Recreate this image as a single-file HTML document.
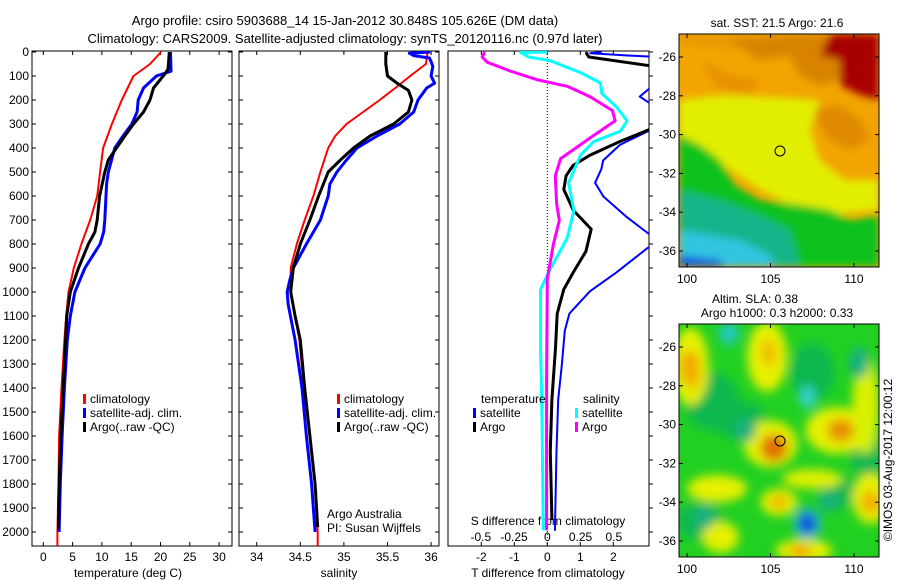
<!DOCTYPE html>
<html><head><meta charset="utf-8"><style>
html,body{margin:0;padding:0;background:#fff;}
svg{display:block;font-family:"Liberation Sans",sans-serif;}
</style></head><body>
<svg id="chart" width="900" height="580" viewBox="0 0 900 580" xmlns="http://www.w3.org/2000/svg">
<defs>
<filter id="blur1" x="-20%" y="-20%" width="140%" height="140%"><feGaussianBlur stdDeviation="4"/></filter>
<filter id="blur2" x="-50%" y="-50%" width="200%" height="200%"><feGaussianBlur stdDeviation="5"/></filter>
<clipPath id="cp1"><rect x="32" y="51" width="200" height="495"/></clipPath>
<clipPath id="cp2"><rect x="239" y="51" width="200" height="495"/></clipPath>
<clipPath id="cp3"><rect x="448" y="51" width="201" height="495"/></clipPath>
<clipPath id="cm1"><rect x="679" y="34" width="200" height="233"/></clipPath>
<clipPath id="cm2"><rect x="679" y="324" width="200" height="233"/></clipPath>
</defs>
<text x="345" y="25" font-size="13" text-anchor="middle">Argo profile: csiro 5903688_14 15-Jan-2012 30.848S 105.626E (DM data)</text>
<text x="345" y="43" font-size="13" text-anchor="middle">Climatology: CARS2009. Satellite-adjusted climatology: synTS_20120116.nc (0.97d later)</text>

<g id="maps">
<g clip-path="url(#cm1)">
<rect x="679" y="34" width="200" height="233" fill="#f2a400"/>
<g filter="url(#blur1)">
<polygon points="679,34 879,34 879,60 800,55 740,50 679,45" fill="#e89a00"/>
<polygon points="730,40 760,60 790,55 800,75 820,85 840,80 860,70 879,70 879,34 820,34" fill="#d88200"/>
<polygon points="810,110 840,105 860,120 870,140 850,150 830,140" fill="#e08a00"/>
<polygon points="700,60 730,75 760,80 750,95 720,90" fill="#e89200"/>
<polygon points="830,34 879,34 879,100 860,95 840,85 840,60 820,55" fill="#a80000"/>
<polygon points="679,100 720,95 790,98 820,100 810,130 820,160 845,180 879,180 879,210 830,215 790,205 760,190 730,170 700,150 679,140" fill="#e2ee00"/>
<polygon points="679,135 700,145 720,160 735,185 760,200 800,205 830,210 850,220 879,215 879,267 679,267" fill="#10c21a"/>
<polygon points="679,190 720,200 760,215 790,230 800,267 679,267" fill="#18b48a"/>
<polygon points="679,230 740,240 770,255 775,267 679,267" fill="#30c4e0"/>
<polygon points="679,255 720,260 725,267 679,267" fill="#1060e0"/>
</g>
</g>
<rect x="679" y="34" width="200" height="233" fill="none" stroke="#000"/>
<g clip-path="url(#cm2)">
<rect x="679" y="324" width="200" height="233" fill="#22d022"/>
<g id="slaBlobs" filter="url(#blur2)"></g>
</g>
<rect x="679" y="324" width="200" height="233" fill="none" stroke="#000"/>
<circle cx="780" cy="151" r="5" fill="none" stroke="#000"/>
<circle cx="780" cy="441" r="5" fill="none" stroke="#000"/>
<text x="777" y="27" font-size="12" text-anchor="middle">sat. SST: 21.5 Argo: 21.6</text>
<text x="755" y="303" font-size="12" text-anchor="middle">Altim. SLA: 0.38</text>
<text x="777" y="317" font-size="12" text-anchor="middle">Argo h1000: 0.3 h2000: 0.33</text>
<text transform="translate(892,460) rotate(-90)" font-size="12" text-anchor="middle">©IMOS 03-Aug-2017 12:00:12</text>
<g id="mapAxes"></g>
</g>

<g id="profiles"></g>
</svg>
<script>
// ---- data ----
const depthTicks = [0,100,200,300,400,500,600,700,800,900,1000,1100,1200,1300,1400,1500,1600,1700,1800,1900,2000];
const tempTicks = [0,5,10,15,20,25,30];
const salTicks = [34,34.5,35,35.5,36];
const salTickLabels = ["34","34.5","35","35.5","36"];
const tdiffTicks = [-2,-1,0,1,2];
const sdiffTicks = [-0.5,-0.25,0,0.25,0.5];
const sdiffTickLabels = ["-0.5","-0.25","0","0.25","0.5"];

const tClimDepth = [0,50,100,200,300,400,500,600,700,800,900,1000,1100,1200,1400,1600,1800,2000,2058];
const tClimVal   = [20.1,18.2,15.4,13.4,11.7,10.2,9.7,9.2,8.0,6.5,5.2,4.3,3.9,3.6,3.1,2.7,2.6,2.4,2.4];
const tSatDepth = [0,80,100,150,200,250,300,350,400,500,550,700,750,800,900,1000,1100,1200,1400,1600,1800,2000];
const tSatVal   = [21.7,21.8,19.3,17.1,16.2,16.0,15.1,13.6,12.2,11.1,10.8,10.5,10.3,9.7,7.1,5.4,4.6,4.1,3.6,3.2,2.9,2.7];
const tArgoDepth = [0,70,90,150,200,250,300,350,400,450,500,600,700,750,800,900,1000,1100,1200,1400,1600,1800,1990];
const tArgoVal   = [21.5,21.3,20.8,18.8,18.2,17.1,15.4,13.9,12.5,11.1,10.5,9.6,9.2,8.8,7.7,6.0,4.6,4.0,3.8,3.4,3.0,2.7,2.6];

const sClimDepth = [0,50,100,150,200,250,300,350,400,500,600,700,800,900,1000,1100,1200,1400,1600,1800,2000,2058];
const sClimVal   = [35.96,35.94,35.76,35.59,35.41,35.22,35.03,34.90,34.82,34.73,34.65,34.55,34.46,34.39,34.39,34.44,34.49,34.54,34.61,34.67,34.70,34.70];
const sSatDepth = [0,5,15,25,40,60,100,130,150,200,250,300,350,400,450,500,550,600,700,800,900,950,1000,1050,1200,1400,1600,1800,2000];
const sSatVal   = [35.99,35.75,35.8,35.98,36.0,36.02,36.0,36.04,35.95,35.85,35.80,35.64,35.38,35.15,35.03,34.92,34.84,34.82,34.73,34.57,34.42,34.38,34.35,34.36,34.44,34.52,34.57,34.63,34.67];
const sArgoDepth = [0,50,100,130,160,200,250,300,350,400,450,500,600,700,800,900,1000,1100,1200,1400,1600,1800,1980];
const sArgoVal   = [35.48,35.48,35.5,35.61,35.74,35.78,35.74,35.57,35.30,35.11,34.96,34.82,34.71,34.61,34.50,34.42,34.39,34.44,34.50,34.55,34.61,34.67,34.70];

const dTSatDepth = [0,5,15,25,80,140,186,222,260,320,387,452,487,545,602,688,760,785,810,918,997,1090,1161,1305,1448,1663,1995];
const dTSatVal   = [1.65,1.3,2.5,4,4,3.2,2.8,3.2,4,3.2,2.2,1.69,1.64,1.45,1.7,2.41,3.1,3.5,3.1,2.1,1.29,0.67,0.53,0.44,0.33,0.28,0.23];
const dTArgoDepth = [0,7,21,57,200,323,373,430,473,516,573,660,738,831,917,989,1090,1233,1448,1663,1950];
const dTArgoVal   = [1.2,1.19,1.26,3.1,4,3.1,2.2,1.29,0.78,0.57,0.5,0.79,1.33,1.17,0.79,0.5,0.3,0.25,0.14,0.09,0.14];
const dSSatDepth = [0,2,21,36,86,129,172,229,287,330,373,430,545,660,774,918,989,1233,1520,1993];
const dSSatVal   = [0.0,-0.2,-0.14,0.02,0.25,0.4,0.41,0.52,0.6,0.55,0.35,0.25,0.16,0.2,0.15,0.01,-0.05,-0.05,-0.04,-0.03];
const dSArgoDepth = [0,21,43,79,115,143,186,244,287,351,444,516,631,702,803,946,1376,1993];
const dSArgoVal   = [-0.47,-0.49,-0.45,-0.28,-0.08,0.15,0.32,0.49,0.51,0.34,0.1,0.06,0.07,0.09,0.045,0,-0.005,-0.005];

// ---- axes ----
const yD = d => 52 + d*0.24;
const xT = t => 43.3 + t*5.86;
const xS = s => 256.7 + (s-34)*87.2;
const xDT = v => 547.3 + v*33;
const xDS = v => 547.3 + v*133;

const NS="http://www.w3.org/2000/svg";
const root=document.getElementById('profiles');
function el(tag, attrs, parent){const e=document.createElementNS(NS,tag);for(const k in attrs)e.setAttribute(k,attrs[k]);(parent||root).appendChild(e);return e;}
function txt(x,y,s,anchor,size,parent){const t=el('text',{x:x,y:y,'font-size':size||12,'text-anchor':anchor||'middle'},parent);t.textContent=s;return t;}

const panels=[{x:32,name:'temperature-panel',cp:'cp1'},{x:239,name:'salinity-panel',cp:'cp2'},{x:448,name:'difference-panel',cp:'cp3',w:201}];
panels.forEach(p=>{
  const w=p.w||200;
  const r=el('rect',{x:p.x,y:51,width:w,height:495,fill:'none',stroke:'#000'});
  
  
  depthTicks.forEach(d=>{
    if(p.x===448){ el('line',{x1:p.x+w,x2:p.x+w+4,y1:yD(d),y2:yD(d),stroke:'#000'}); }
    else { el('line',{x1:p.x,x2:p.x+4,y1:yD(d),y2:yD(d),stroke:'#000'}); el('line',{x1:p.x+w-4,x2:p.x+w,y1:yD(d),y2:yD(d),stroke:'#000'}); }
  });
});
depthTicks.forEach(d=>{
  const t=txt(29,yD(d)+4,String(d),'end',12);
  
  
});
function xticks(vals,labels,fx,y,panelTop){
  vals.forEach((v,i)=>{
    const x=fx(v);
    if(panelTop){el('line',{x1:x,x2:x,y1:51,y2:55,stroke:'#000'});el('line',{x1:x,x2:x,y1:542,y2:546,stroke:'#000'});}
    const t=txt(x,y,labels[i],'middle',12);
    
    
  });
}
xticks(tempTicks,tempTicks.map(String),xT,561,true);
xticks(salTicks,salTickLabels,xS,561,true);
xticks(tdiffTicks,tdiffTicks.map(String),xDT,561,true);
xticks(sdiffTicks,sdiffTickLabels,xDS,541,false);
[['temperature (deg C)',128,'temperature-axis-title'],['salinity',339,'salinity-axis-title'],['T difference from climatology',548,'t-difference-axis-title']].forEach(a=>{
  const t=txt(a[1],577,a[0],'middle',12);
  
  
});
const st=txt(548,525,'S difference from climatology','middle',12);


el('line',{x1:547.3,x2:547.3,y1:51,y2:546,stroke:'#000','stroke-dasharray':'1,2','stroke-width':1});

function series(depths,vals,fx,color,cp,name,w){
  const pts=depths.map((d,i)=>fx(vals[i]).toFixed(1)+','+yD(d).toFixed(1)).join(' ');
  const pl=el('polyline',{points:pts,fill:'none',stroke:color,'stroke-width':w||3,'clip-path':'url(#'+cp+')','stroke-linejoin':'round'});
  
  
}
series(tClimDepth,tClimVal,xT,'#ff0000','cp1','temp-climatology-line',2);
series(tSatDepth,tSatVal,xT,'#0000ff','cp1','temp-satellite-line',3);
series(tArgoDepth,tArgoVal,xT,'#000000','cp1','temp-argo-line',3);
series(sClimDepth,sClimVal,xS,'#ff0000','cp2','sal-climatology-line',2);
series(sSatDepth,sSatVal,xS,'#0000ff','cp2','sal-satellite-line',3);
series(sArgoDepth,sArgoVal,xS,'#000000','cp2','sal-argo-line',3);
series(dTSatDepth,dTSatVal,xDT,'#0000ff','cp3','tdiff-satellite-line',2);
series(dTArgoDepth,dTArgoVal,xDT,'#000000','cp3','tdiff-argo-line',3);
series(dSSatDepth,dSSatVal,xDS,'#00ffff','cp3','sdiff-satellite-line',3);
series(dSArgoDepth,dSArgoVal,xDS,'#ff00ff','cp3','sdiff-argo-line',3);

function legend(x,y,color,label){
  const g=el('g',{});
  
  
  el('rect',{x:x,y:y-5,width:3,height:10,fill:color},g);
  txt(x+7,y+4,label,'start',12,g);
}
legend(83,399,'#ff0000','climatology');legend(83,413,'#0000ff','satellite-adj. clim.');legend(83,427,'#000000','Argo(..raw -QC)');
legend(337,399,'#ff0000','climatology');legend(337,413,'#0000ff','satellite-adj. clim.');legend(337,427,'#000000','Argo(..raw -QC)');
let t1=txt(481,403,'temperature','start',12);
let t2=txt(583,403,'salinity','start',12);
legend(473,413,'#0000ff','satellite');legend(473,427,'#000000','Argo');
legend(575,413,'#00ffff','satellite');legend(575,427,'#ff00ff','Argo');
let a1=txt(327,518,'Argo Australia','start',12);
let a2=txt(327,532,'PI: Susan Wijffels','start',12);

// ---- maps ----
const mapLonTicks=[100,105,110];
const mapLatTicks=[26,28,30,32,34,36];
const mx = lon => 687 + (lon-100)*16.7;
const myTop = lat => 57 + (lat-26)*19.4;
const myBot = lat => 347 + (lat-26)*19.4;
const ma=document.getElementById('mapAxes');
[[myTop,34,267],[myBot,324,557]].forEach(m=>{
  mapLatTicks.forEach(l=>{
    const y=m[0](l);
    el('line',{x1:679,x2:683,y1:y,y2:y,stroke:'#000'},ma);el('line',{x1:875,x2:879,y1:y,y2:y,stroke:'#000'},ma);
    const t=txt(676,y+4,'-'+l,'end',12,ma);
    
    
  });
  mapLonTicks.forEach(l=>{
    const x=mx(l);
    el('line',{x1:x,x2:x,y1:m[1],y2:m[1]+4,stroke:'#000'},ma);el('line',{x1:x,x2:x,y1:m[2]-4,y2:m[2],stroke:'#000'},ma);
    const t=txt(x,m[2]+16,String(l),'middle',12,ma);
    
    
  });
});
const blobLon=[101.5,107.5,103.2,110.8,100.8,109,100.2,104.8,105,109,101.8,105.5,111,107,102,110.7,107.5,100.3,105.2,109.2,100,104.9,105.5,111,106.8,102.5,107.2,101,103.5,110.3,107.2,107.2,108.5];
const blobLat=[28.8,27.3,29.8,31.5,35,33.5,27,26.5,31,30.3,33.3,34,33.8,36.5,35.8,29,32.8,27.2,31.2,30.3,27,26.3,34,34,36.5,25.3,28.6,34.8,30.3,26.8,35.1,35.1,34];
const blobRx=[1.6,1.3,1.5,1.0,1.4,1.2,1.1,1.2,1.6,1.9,1.8,1.1,1.1,1.7,1.1,0.8,1.8,0.5,0.8,0.8,0.4,0.5,0.5,0.6,0.7,0.6,0.5,0.6,0.6,0.6,0.8,0.45,0.6];
const blobRy=[1.5,1.5,1.0,1.5,1.0,0.8,2.0,1.8,1.2,1.2,0.7,0.7,1.3,0.6,0.8,2.5,0.5,1.0,0.7,0.6,0.8,0.7,0.35,0.6,0.3,0.6,0.6,0.6,0.6,0.8,0.8,0.5,0.5];
const blobCol=['#10b850','#10b850','#10b850','#10b850','#10b850','#10b850','#e6f000','#e6f000','#e6f000','#e6f000','#e6f000','#e6f000','#e6f000','#e6f000','#e6f000','#d8f000','#e0f000','#f2b000','#e07000','#e89000','#f0a800','#f0c000','#f0b000','#f0b000','#f0a000','#20c8c0','#30d0c8','#18b080','#18b080','#18b080','#20b0e0','#1040d0','#18b080'];
const sb=document.getElementById('slaBlobs');
blobLon.forEach((lon,i)=>{
  const e=el('ellipse',{cx:mx(lon),cy:myBot(blobLat[i]),rx:blobRx[i]*16.7,ry:blobRy[i]*19.4,fill:blobCol[i]},sb);
  
  
});
</script>
</body></html>
